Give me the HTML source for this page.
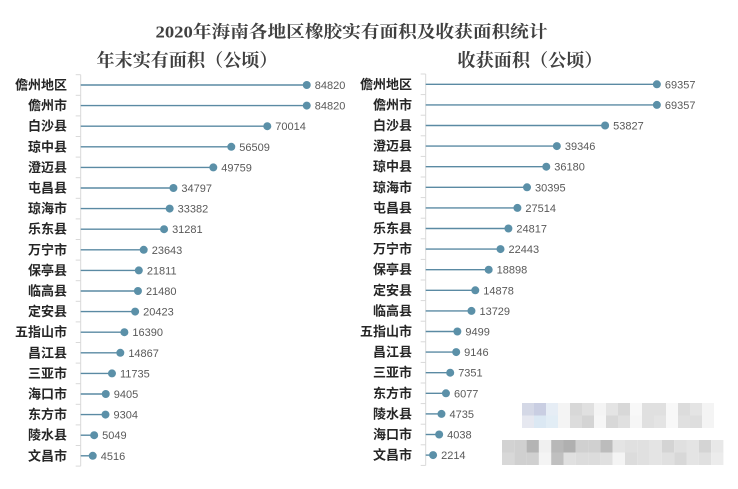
<!DOCTYPE html>
<html><head><meta charset="utf-8"><style>
html,body{margin:0;padding:0;background:#fff;}
svg{display:block;}
.t{font-family:"Liberation Serif","Noto Serif CJK SC",serif;font-weight:bold;fill:#404040;}
.c{font-family:"Liberation Sans","Noto Sans CJK SC",sans-serif;font-weight:bold;font-size:13px;fill:#262626;}
.v{font-family:"Liberation Sans",sans-serif;font-size:11px;fill:#595959;}
</style></head><body>
<svg id="s" width="738" height="489" viewBox="0 0 738 489" xmlns="http://www.w3.org/2000/svg">
<rect width="738" height="489" fill="#fff"/>
<text class="t" x="155.5" y="37.5" font-size="17" textLength="392" lengthAdjust="spacingAndGlyphs">2020年海南各地区橡胶实有面积及收获面积统计</text>
<text class="t" x="96.5" y="66.5" font-size="18" textLength="181" lengthAdjust="spacingAndGlyphs">年末实有面积（公顷）</text>
<text class="t" x="457.5" y="66.5" font-size="18" textLength="145" lengthAdjust="spacingAndGlyphs">收获面积（公顷）</text>
<g id="L"></g>
<g id="R"></g>
<g id="W"></g>
</svg>
<script>
var NS="http://www.w3.org/2000/svg";
function el(p,n,a,t){var e=document.createElementNS(NS,n);for(var k in a)e.setAttribute(k,a[k]);if(t!==undefined)e.textContent=t;p.appendChild(e);return e;}
function chart(g,data,x0,sc,y0,lx){
  var step=20.6;
  el(g,"line",{x1:x0,y1:y0-10.3,x2:x0,y2:y0-10.3+19*step,stroke:"#d9d9d9","stroke-width":1});
  for(var i=0;i<=19;i++){var yy=y0-10.3+i*step;el(g,"line",{x1:x0-5,y1:yy,x2:x0,y2:yy,stroke:"#d9d9d9","stroke-width":1});}
  data.forEach(function(d,i){
    var y=y0+i*step,x=x0+d[1]*sc;
    el(g,"line",{x1:x0,y1:y,x2:x,y2:y,stroke:"#5a8aa3","stroke-width":1.4});
    el(g,"circle",{cx:x,cy:y,r:4,fill:"#5b90a8"});
    el(g,"text",{class:"v",x:x+8,y:y+4},String(d[1]));
    el(g,"text",{class:"c",x:lx,y:y+4.5,"text-anchor":"end"},d[0]);
  });
}
chart(document.getElementById("L"),[["儋州地区",84820],["儋州市",84820],["白沙县",70014],["琼中县",56509],["澄迈县",49759],["屯昌县",34797],["琼海市",33382],["乐东县",31281],["万宁市",23643],["保亭县",21811],["临高县",21480],["定安县",20423],["五指山市",16390],["昌江县",14867],["三亚市",11735],["海口市",9405],["东方市",9304],["陵水县",5049],["文昌市",4516]],80.7,0.002665,85,67);
chart(document.getElementById("R"),[["儋州地区",69357],["儋州市",69357],["白沙县",53827],["澄迈县",39346],["琼中县",36180],["琼海市",30395],["屯昌县",27514],["乐东县",24817],["万宁市",22443],["保亭县",18898],["定安县",14878],["临高县",13729],["五指山市",9499],["昌江县",9146],["三亚市",7351],["东方市",6077],["陵水县",4735],["海口市",4038],["文昌市",2214]],425.7,0.003333,84.3,412);
var W=document.getElementById("W");
var top1=["#d4d8e6","#c9cee2","#e6edf5","#f4f4f4","#d8d8d8","#e0e0e0","#f4f4f4","#e4e4e4","#d8d8d8","#f8f8f8","#e0e0e0","#e0e0e0","#f8f8f8","#dcdcdc","#e4e4e4","#f4f4f4"];
var top2=["#e6e8f0","#dbe8f3","#e2edf5","#f4f4f4","#dcdcdc","#d4d4d4","#f6f6f6","#d8d8d8","#e0e0e0","#f6f6f6","#e0e0e0","#e4e4e4","#f8f8f8","#e0e0e0","#dedede","#f4f4f4"];
top1.forEach(function(c,i){el(W,"rect",{x:522+i*12,y:403,width:12,height:12.5,fill:c});});
top2.forEach(function(c,i){el(W,"rect",{x:522+i*12,y:415.5,width:12,height:12.5,fill:c});});
var b1=["#d2d2d2","#d0d0d0","#b4b4b4","#f0f0f0","#b8b8b8","#b0b0b0","#d0d0d0","#d0d0d0","#bcbcbc","#e4e4e4","#e0e0e0","#e0e0e0","#e4e4e4","#d4d4d4","#e0e0e0","#e4e4e4","#d4d4d4","#e8e8e8"];
var b2=["#d8d8d8","#d0d0d0","#d0d0d0","#f4f4f4","#c0c0c0","#e0e0e0","#dcdcdc","#dcdcdc","#e0e0e0","#f4f4f4","#dcdcdc","#e0e0e0","#e4e4e4","#e0e0e0","#d8d8d8","#e4e4e4","#e0e0e0","#ececec"];
b1.forEach(function(c,i){el(W,"rect",{x:502+i*12.3,y:440,width:12.3,height:12.5,fill:c});});
b2.forEach(function(c,i){el(W,"rect",{x:502+i*12.3,y:452.5,width:12.3,height:12.5,fill:c});});
</script>
</body></html>
